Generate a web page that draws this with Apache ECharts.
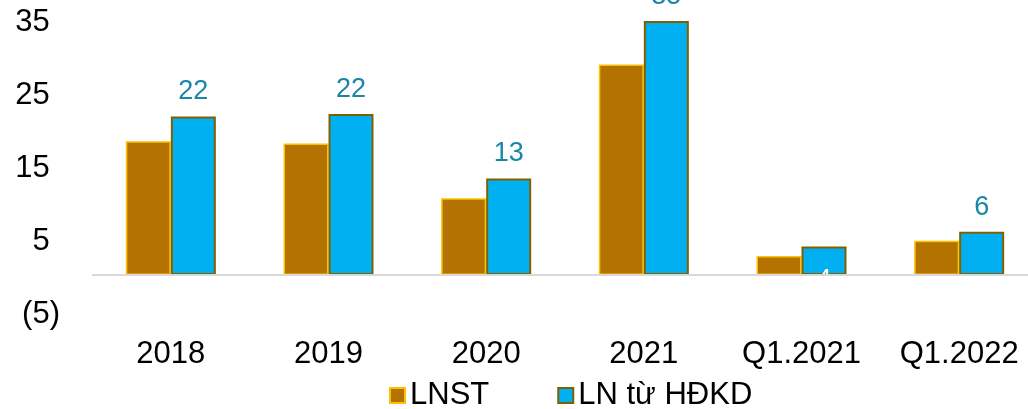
<!DOCTYPE html>
<html>
<head>
<meta charset="utf-8">
<script src="https://cdn.jsdelivr.net/npm/echarts@6/dist/echarts.min.js"></script>
<style>
html,body{margin:0;padding:0;background:#fff;overflow:hidden;width:1028px;height:409px;}
#chart{width:1038px;height:409px;}
</style>
</head>
<body>
<div id="chart"></div>
<script>
const categories = ['2018', '2019', '2020', '2021', 'Q1.2021', 'Q1.2022'];
const seriesNames = ['LNST', 'LN từ HĐKD'];
const lnst = [18.3, 18.0, 10.5, 28.8, 2.6, 4.7];
const lnHdkd = [21.7, 22.05, 13.2, 34.75, 3.9, 5.9];
const yTickValues = [-5, 5, 15, 25, 35];

const FONT = 'Arial, "Liberation Sans", sans-serif';
const chart = echarts.init(document.getElementById('chart'));

const lnData = lnHdkd.map((v, i) => {
  if (categories[i] === 'Q1.2021') {
    return { value: v, label: { position: 'bottom', distance: -8, color: '#ffffff' } };
  }
  return v;
});

chart.setOption({
  animation: false,
  backgroundColor: '#ffffff',
  grid: { left: 92, right: 0, top: 1, bottom: 97.5, containLabel: false },
  legend: {
    data: seriesNames,
    left: 384,
    top: 375,
    icon: 'rect',
    itemWidth: 15,
    itemHeight: 15,
    itemGap: 68,
    textStyle: { fontFamily: FONT, fontSize: 31, color: '#000' }
  },
  xAxis: {
    type: 'category',
    data: categories,
    axisLine: { show: false, onZero: false },
    axisTick: { show: false },
    axisLabel: { fontFamily: FONT, fontSize: 31, color: '#000', margin: 27, interval: 0 },
    splitLine: { show: false }
  },
  yAxis: {
    type: 'value',
    min: -5,
    max: 37.5,
    interval: 5,
    axisLine: { show: false },
    axisTick: { show: false },
    splitLine: { show: false },
    axisLabel: {
      margin: 32,
      fontFamily: FONT,
      fontSize: 31,
      color: '#000',
      formatter: function (v) {
        if (yTickValues.indexOf(v) < 0) return '';
        if (v < 0) return '{a|(' + (-v) + ')}';
        return '{a|' + v + '}{h|)}';
      },
      rich: {
        a: { fontFamily: FONT, fontSize: 31, color: '#000', padding: [6, 0, 0, 0] },
        h: { fontFamily: FONT, fontSize: 31, color: 'rgba(0,0,0,0)', padding: [6, 0, 0, 0] }
      }
    }
  },
  series: [
    {
      name: seriesNames[0],
      type: 'bar',
      data: lnst,
      barWidth: 45,
      barGap: '0%',
      itemStyle: { color: '#B47300', borderColor: '#FFC000', borderWidth: 1.5 },
      markLine: {
        silent: true,
        symbol: ['none', 'none'],
        label: { show: false },
        lineStyle: { color: '#D9D9D9', width: 2, type: 'solid' },
        data: [{ yAxis: 0 }]
      }
    },
    {
      name: seriesNames[1],
      type: 'bar',
      data: lnData,
      barWidth: 45,
      barGap: '0%',
      itemStyle: { color: '#00B0F0', borderColor: '#7F6000', borderWidth: 2 },
      label: {
        show: true,
        position: 'top',
        distance: 11,
        fontFamily: FONT,
        fontSize: 27,
        color: '#1A86A6',
        formatter: function (p) { return Math.round(p.value); }
      }
    }
  ]
});
</script>
</body>
</html>
